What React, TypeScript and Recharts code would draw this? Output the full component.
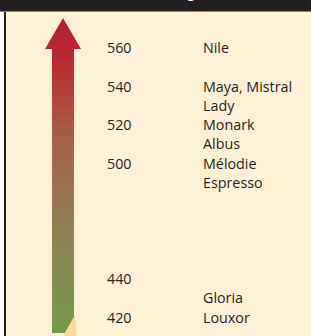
import {
  ComposedChart,
  XAxis,
  YAxis,
  Scatter,
  ReferenceArea
} from "recharts";

// weight scale (values written to the left of the names)
const weightTicks = [560, 540, 520, 500, 440, 420];

// varieties and their weight
const varietyNames = [
  "Nile",
  "Maya, Mistral",
  "Lady",
  "Monark",
  "Albus",
  "Mélodie",
  "Espresso",
  "Gloria",
  "Louxor"
];
const varietyWeights = [560, 540, 530, 520, 510, 500, 490, 430, 420];

// arrow runs from the bottom of the scale up past the top value
const arrowRange = [412, 575.6];
const lowerArrowTip = [410.4, 421.3];

const rows = varietyNames.map((name, i) => ({ col: 1, value: varietyWeights[i], name }));
const tickRows = weightTicks.map((v) => ({ col: 1, value: v, name: String(v) }));

const W = 311;
const H = 336;
const TICK_X = 107;
const NAME_X = 203;
const FONT = "'Open Sans', 'Noto Sans', sans-serif";
const INK = "#231F20";

const makeLabel = (xPos: number) => (props: any) => {
  const { cy, payload } = props;
  return (
    <text x={xPos} y={cy} dy={5} fontSize={14.3} fontFamily={FONT} fill={INK}>
      {payload.name}
    </text>
  );
};

const ArrowShape = (props: any) => {
  const { x, y, width, height } = props;
  const cx = x + width / 2;
  const headLen = 31;
  const headHalf = 18;
  const bottom = y + height;
  const pts = [
    [cx, y],
    [cx + headHalf, y + headLen],
    [x + width, y + headLen],
    [x + width, bottom],
    [x, bottom],
    [x, y + headLen],
    [cx - headHalf, y + headLen]
  ]
    .map((p) => p.join(","))
    .join(" ");
  return <polygon points={pts} fill="url(#arrowGrad)" />;
};

const TipShape = (props: any) => {
  const { x, y, width, height } = props;
  const pts = [
    [x, y + height],
    [x + width - 2, y],
    [x + width, y + height]
  ]
    .map((p) => p.join(","))
    .join(" ");
  return <polygon points={pts} fill="#FDD79D" />;
};

export default function App() {
  return (
    <div style={{ position: "relative", width: W, height: H, background: "#fff", overflow: "hidden" }}>
      <style>{"body{margin:0}"}</style>
      <div
        style={{
          position: "absolute",
          left: 6,
          top: 10,
          width: W - 6,
          height: H - 10,
          background: "#FEF0D5"
        }}
      />
      <div style={{ position: "absolute", left: 4, top: 10, width: 2, height: H - 10, background: INK }} />
      <div style={{ position: "absolute", left: 0, top: 0, width: W, height: 11, background: INK, overflow: "hidden" }}>
        <div
          style={{
            position: "absolute",
            left: 183,
            top: -18,
            color: "#fff",
            fontFamily: FONT,
            fontSize: 14,
            lineHeight: "19px",
            whiteSpace: "nowrap"
          }}
        >
          (grammes)
        </div>
      </div>
      <div style={{ position: "absolute", left: 0, top: 11, width: W, height: 1, background: "#8A8270" }} />
      <div style={{ position: "absolute", left: 0, top: 0 }}>
        <ComposedChart
          width={W}
          height={H}
          data={rows}
          margin={{ top: 9.5, right: 0, bottom: 3.1, left: 0 }}
        >
          <defs>
            <linearGradient id="arrowGrad" x1="0" y1="0" x2="0" y2="1">
              <stop offset="0" stopColor="#B8232E" />
              <stop offset="0.12" stopColor="#B8262F" />
              <stop offset="0.35" stopColor="#A85A45" />
              <stop offset="0.55" stopColor="#9A7352" />
              <stop offset="0.75" stopColor="#8A8755" />
              <stop offset="1" stopColor="#72994A" />
            </linearGradient>
          </defs>
          <XAxis type="number" dataKey="col" domain={[0, W]} hide />
          <YAxis type="number" dataKey="value" domain={[412, 580]} hide allowDataOverflow />
          <ReferenceArea
            x1={52}
            x2={74}
            y1={arrowRange[0]}
            y2={arrowRange[1]}
            ifOverflow="visible"
            shape={<ArrowShape />}
          />
          <ReferenceArea
            x1={63}
            x2={77}
            y1={lowerArrowTip[0]}
            y2={lowerArrowTip[1]}
            ifOverflow="visible"
            shape={<TipShape />}
          />
          <Scatter data={tickRows} dataKey="value" shape={makeLabel(TICK_X)} isAnimationActive={false} />
          <Scatter data={rows} dataKey="value" shape={makeLabel(NAME_X)} isAnimationActive={false} />
        </ComposedChart>
      </div>
    </div>
  );
}
